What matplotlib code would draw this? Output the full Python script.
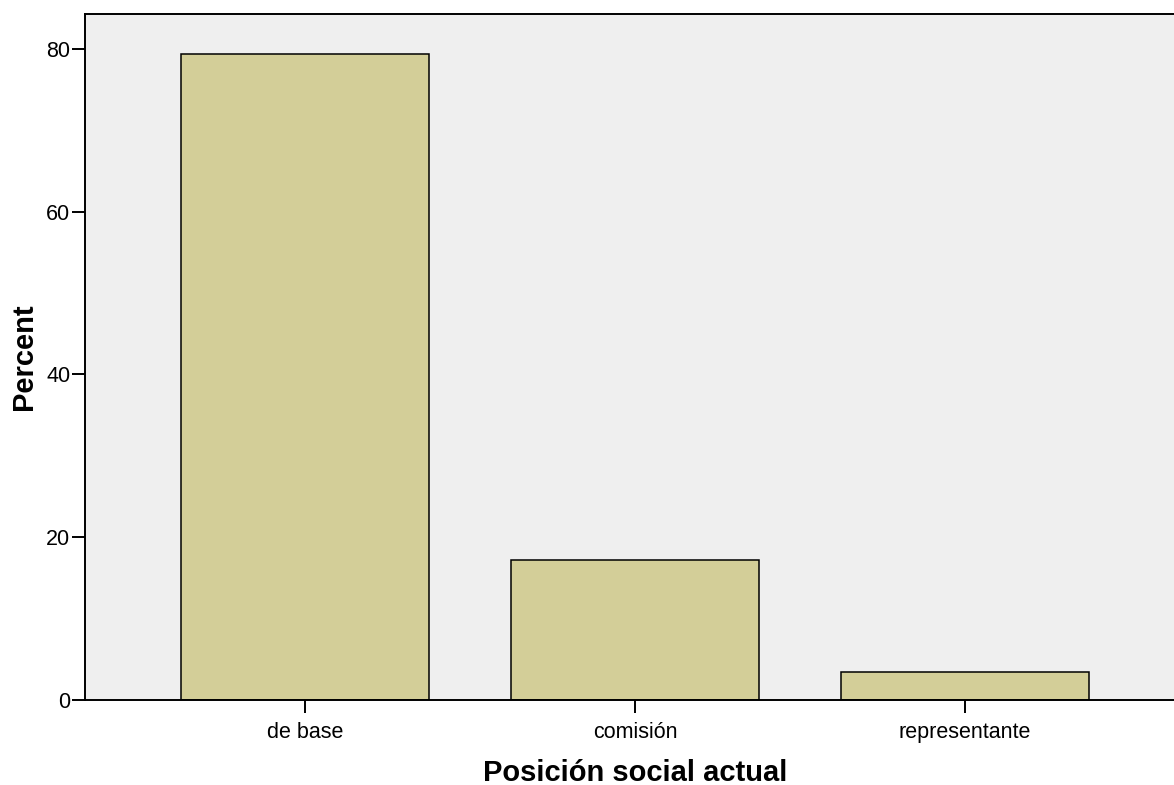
import matplotlib.pyplot as plt

plt.rcParams["font.family"] = ["Liberation Sans", "DejaVu Sans"]

categories = ["de base", "comisión", "representante"]
percent = [79.4, 17.2, 3.45]
y_ticks = [0, 20, 40, 60, 80]

fig = plt.figure(figsize=(11.74, 7.85), dpi=100)
ax = fig.add_axes([85 / 1174, 85 / 785, 1 - 85 / 1174 + 0.01, (700 - 14) / 785])
ax.set_facecolor("#EFEFEF")

positions = list(range(len(categories)))
ax.bar(positions, percent, width=0.75, color="#D3CE98",
       edgecolor="black", linewidth=1.1, zorder=2)

ax.set_xlim(-0.667, 2.633 + 0.01 * 1174 / 330)
ax.set_ylim(0, (700 - 14) / 8.14)
ax.set_xticks(positions)
ax.set_xticklabels(categories)
ax.set_yticks(y_ticks)

ax.tick_params(axis="both", direction="out", length=9.5, width=1.4,
               labelsize=15.5, colors="black")
ax.tick_params(axis="x", pad=6)
ax.tick_params(axis="y", pad=1)

for side in ["left", "top", "bottom"]:
    ax.spines[side].set_linewidth(1.4)
    ax.spines[side].set_color("black")
ax.spines["right"].set_visible(False)

ax.set_xlabel("Posición social actual", fontsize=21, fontweight="bold", labelpad=12)
ax.set_ylabel("Percent", fontsize=21, fontweight="bold", labelpad=6)

fig.savefig("out.png", dpi=100)
